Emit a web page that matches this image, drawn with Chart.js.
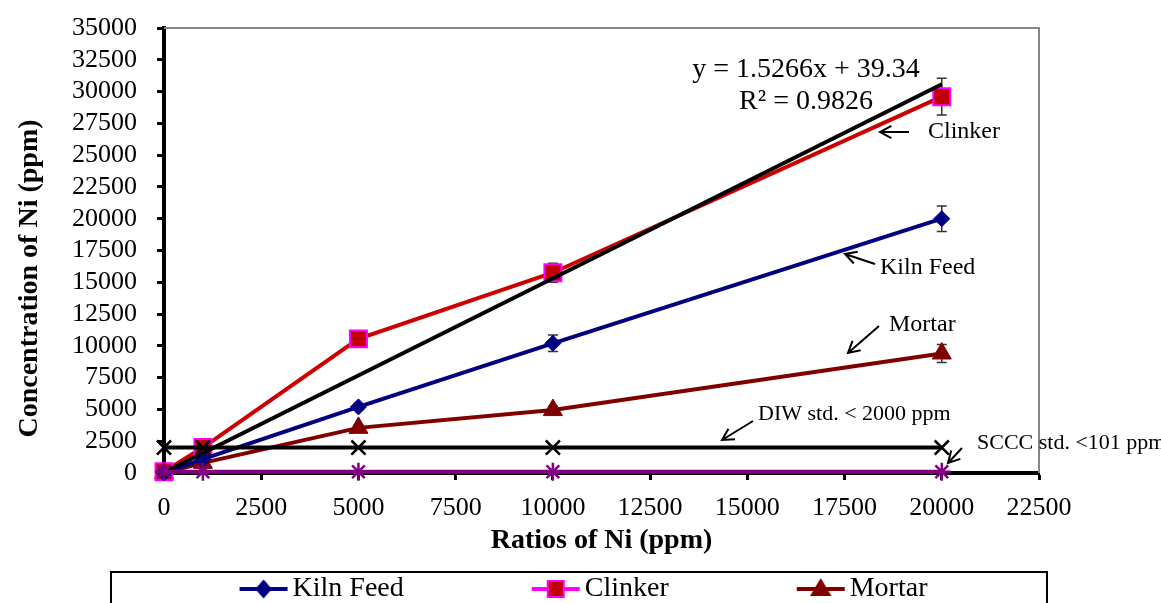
<!DOCTYPE html>
<html>
<head>
<meta charset="utf-8">
<title>Concentration of Ni</title>
<script src="https://cdn.jsdelivr.net/npm/chart.js@4.4.0/dist/chart.umd.min.js"></script>
<style>
    html, body { margin: 0; padding: 0; background: #fff; overflow: hidden; }
    canvas { display: block; }
</style>
</head>
<body>
<canvas id="niChart" width="1161" height="613"></canvas>
<script>
// Values
const ratios = [0, 1000, 5000, 10000, 20000];
const kilnFeed = [0, 1100, 5200, 10200, 20000];
const kilnFeedErr = [0, 100, 250, 650, 1000];
const clinker = [100, 2000, 10550, 15750, 29600];
const clinkerErr = [0, 150, 300, 750, 1450];
const mortar = [0, 800, 3550, 4950, 9400];
const mortarErr = [0, 100, 200, 300, 700];
const diwStd = [2000, 2000, 2000, 2000, 2000];
const scccStd = [101, 101, 101, 101, 101];

// Linear fit of Clinker, y = 1.5266x + 39.34
const trendX = [0, 20000];
const trendY = [39.34, 30571.34];

const xTicks = [0, 2500, 5000, 7500, 10000, 12500, 15000, 17500, 20000, 22500];
const yTicks = [0, 2500, 5000, 7500, 10000, 12500, 15000, 17500, 20000, 22500, 25000, 27500, 30000, 32500, 35000];

const seriesNames = ['Kiln Feed', 'Clinker', 'Mortar', 'DIW std. < 2000 ppm', 'SCCC std. <101 ppm', 'Linear (Clinker)'];

// Text notes on the plot, placed in data units
const notes = [
    { text: 'Clinker', x: 19646, y: 26820, size: 24, tail: [19157, 26820], head: [18411, 26820] },
    { text: 'Kiln Feed', x: 18411, y: 16123, size: 24, tail: [18283, 16437], head: [17511, 17224] },
    { text: 'Mortar', x: 18643, y: 11640, size: 24, tail: [18386, 11561], head: [17589, 9438] },
    { text: 'DIW std. < 2000 ppm', x: 15274, y: 4640, size: 22, tail: [15146, 4090], head: [14349, 2595] },
    { text: 'SCCC std. <101 ppm', x: 20906, y: 2360, size: 22, tail: [20520, 1966], head: [20160, 786] }
];
const equation = { lines: ['y = 1.5266x + 39.34', 'R\u00b2 = 0.9826'], x: 16509, y: [31700, 29180] };

const FONT = "'Liberation Serif', 'Times New Roman', serif";
const ICON_W = 167;

function points(ys, xs = ratios) {
    return ys.map((y, i) => ({ x: xs[i], y: y }));
}

// Legend swatch: a short line with the marker in the middle, at the right end of the box
function legendIcon(lineColor, shape, fill, stroke) {
    const c = document.createElement('canvas');
    c.width = ICON_W + 20;
    c.height = 28;
    const g = c.getContext('2d');
    const x1 = c.width - 49, x2 = c.width - 1, cx = (x1 + x2) / 2, cy = 14;
    g.strokeStyle = lineColor;
    g.lineWidth = 4;
    g.beginPath();
    g.moveTo(x1, cy);
    g.lineTo(x2, cy);
    g.stroke();
    g.fillStyle = fill;
    g.strokeStyle = stroke;
    g.lineWidth = 2;
    g.beginPath();
    if (shape === 'diamond') {
        g.moveTo(cx, cy - 8); g.lineTo(cx + 7, cy); g.lineTo(cx, cy + 8); g.lineTo(cx - 7, cy); g.closePath();
    } else if (shape === 'square') {
        g.rect(cx - 8, cy - 8, 16, 16);
    } else {
        g.moveTo(cx, cy - 9); g.lineTo(cx + 9, cy + 6); g.lineTo(cx - 9, cy + 6); g.closePath();
    }
    g.fill();
    g.stroke();
    return c;
}

const legendIcons = [
    legendIcon('#000080', 'diamond', '#000080', '#000080'),
    legendIcon('#FF00FF', 'square', '#C00000', '#FF00FF'),
    legendIcon('#800000', 'triangle', '#800000', '#800000')
];

const errors = [kilnFeedErr, clinkerErr, mortarErr];

// Error bars, drawn under the markers
const errorBars = {
    id: 'errorBars',
    beforeDatasetsDraw(chart) {
        const { ctx, scales: { x, y } } = chart;
        ctx.save();
        ctx.strokeStyle = '#333';
        ctx.lineWidth = 1.5;
        errors.forEach((errs, d) => {
            const vals = chart.data.datasets[d].data;
            vals.forEach((p, i) => {
                if (!errs[i]) return;
                const px = x.getPixelForValue(p.x);
                const top = y.getPixelForValue(p.y + errs[i]);
                const bot = y.getPixelForValue(p.y - errs[i]);
                ctx.beginPath();
                ctx.moveTo(px, top); ctx.lineTo(px, bot);
                ctx.moveTo(px - 5, top); ctx.lineTo(px + 5, top);
                ctx.moveTo(px - 5, bot); ctx.lineTo(px + 5, bot);
                ctx.stroke();
            });
        });
        ctx.restore();
    }
};

function arrow(ctx, x1, y1, x2, y2) {
    const a = Math.atan2(y2 - y1, x2 - x1);
    const h = 13;
    ctx.beginPath();
    ctx.moveTo(x1, y1);
    ctx.lineTo(x2, y2);
    ctx.moveTo(x2 - h * Math.cos(a - 0.5), y2 - h * Math.sin(a - 0.5));
    ctx.lineTo(x2, y2);
    ctx.lineTo(x2 - h * Math.cos(a + 0.5), y2 - h * Math.sin(a + 0.5));
    ctx.stroke();
}

// Plot frame, legend box, equation and labels
const decorations = {
    id: 'decorations',
    beforeDatasetsDraw(chart) {
        const { ctx, chartArea: a } = chart;
        ctx.save();
        ctx.strokeStyle = '#868686';
        ctx.lineWidth = 2;
        ctx.beginPath();
        ctx.moveTo(a.left, a.top);
        ctx.lineTo(a.right, a.top);
        ctx.lineTo(a.right, a.bottom);
        ctx.stroke();
        ctx.restore();
    },
    afterDraw(chart) {
        const { ctx, chartArea: a, scales: { x, y } } = chart;
        ctx.save();
        // legend frame, its lower edge is outside the picture
        const lg = chart.legend;
        ctx.strokeStyle = '#000';
        ctx.lineWidth = 2;
        ctx.strokeRect(a.left - 53, lg.top - 3, a.right - a.left + 61, 60);

        ctx.fillStyle = '#000';
        ctx.textBaseline = 'middle';
        ctx.textAlign = 'center';
        ctx.font = '28px ' + FONT;
        equation.lines.forEach((t, i) => {
            ctx.fillText(t, x.getPixelForValue(equation.x), y.getPixelForValue(equation.y[i]));
        });

        ctx.textAlign = 'left';
        ctx.lineWidth = 2;
        notes.forEach(n => {
            ctx.font = n.size + 'px ' + FONT;
            ctx.fillText(n.text, x.getPixelForValue(n.x), y.getPixelForValue(n.y));
            arrow(ctx,
                x.getPixelForValue(n.tail[0]), y.getPixelForValue(n.tail[1]),
                x.getPixelForValue(n.head[0]), y.getPixelForValue(n.head[1]));
        });
        ctx.restore();
    }
};

const tickFont = { family: FONT, size: 26 };
const titleFont = { family: FONT, size: 28, weight: 'bold' };

new Chart(document.getElementById('niChart'), {
    type: 'line',
    data: {
        datasets: [
            {
                label: seriesNames[0], data: points(kilnFeed), order: 3,
                borderColor: '#000080', borderWidth: 4,
                pointStyle: 'rectRot', pointRadius: 8, pointBackgroundColor: '#000080', pointBorderColor: '#000080', pointBorderWidth: 1
            },
            {
                label: seriesNames[1], data: points(clinker), order: 4,
                borderColor: '#CC0000', borderWidth: 4,
                pointStyle: 'rect', pointRadius: 12, pointBackgroundColor: '#C00000', pointBorderColor: '#FF00FF', pointBorderWidth: 2
            },
            {
                label: seriesNames[2], data: points(mortar), order: 5,
                borderColor: '#800000', borderWidth: 4,
                pointStyle: 'triangle', pointRadius: 11, pointBackgroundColor: '#800000', pointBorderColor: '#800000', pointBorderWidth: 1
            },
            {
                label: seriesNames[3], data: points(diwStd), order: 0,
                borderColor: '#000', borderWidth: 4,
                pointStyle: 'crossRot', pointRadius: 10, pointBorderColor: '#000', pointBorderWidth: 2.5
            },
            {
                label: seriesNames[4], data: points(scccStd), order: 1,
                borderColor: '#800080', borderWidth: 4,
                pointStyle: 'star', pointRadius: 9, pointBorderColor: '#800080', pointBorderWidth: 2.5
            },
            {
                label: seriesNames[5], data: points(trendY, trendX), order: 2,
                borderColor: '#000', borderWidth: 4, pointRadius: 0
            }
        ]
    },
    options: {
        responsive: false,
        animation: false,
        clip: false,
        layout: { padding: { left: 0, right: 122, top: 28, bottom: 0 } },
        plugins: {
            tooltip: { enabled: false },
            legend: {
                position: 'bottom',
                labels: {
                    usePointStyle: true,
                    pointStyleWidth: ICON_W,
                    padding: 0,
                    color: '#000',
                    font: { family: FONT, size: 28 },
                    filter: item => item.datasetIndex < 3,
                    generateLabels: chart => {
                        const items = Chart.defaults.plugins.legend.labels.generateLabels(chart);
                        items.forEach(it => {
                            if (it.datasetIndex < 3) it.pointStyle = legendIcons[it.datasetIndex];
                        });
                        return items;
                    }
                }
            }
        },
        scales: {
            x: {
                type: 'linear',
                min: 0,
                max: 22500,
                afterBuildTicks: s => { s.ticks = xTicks.map(v => ({ value: v })); },
                afterFit: s => { s.height = 102; },
                border: { display: true, color: '#000', width: 4 },
                grid: { drawOnChartArea: false, drawTicks: true, tickLength: 7, tickWidth: 3, tickColor: '#000' },
                ticks: { color: '#000', font: tickFont, padding: 13, maxRotation: 0, autoSkip: false, callback: v => String(v) },
                title: { display: true, text: 'Ratios of Ni (ppm)', color: '#000', font: titleFont, padding: { top: 0, bottom: 17 } }
            },
            y: {
                min: 0,
                max: 35000,
                afterBuildTicks: s => { s.ticks = yTicks.map(v => ({ value: v })); },
                afterFit: s => { s.width = 164; s.paddingTop = 0; s.paddingBottom = 0; },
                border: { display: true, color: '#000', width: 4 },
                grid: { drawOnChartArea: false, drawTicks: true, tickLength: 7, tickWidth: 3, tickColor: '#000' },
                ticks: { color: '#000', font: tickFont, padding: 20, autoSkip: false, callback: v => String(v) },
                title: {
                    display: true,
                    text: 'Concentration of Ni (ppm)' + '\u00a0'.repeat(8),
                    color: '#000', font: titleFont, padding: { top: 13, bottom: 0 }
                }
            }
        }
    },
    plugins: [errorBars, decorations]
});
</script>
</body>
</html>
